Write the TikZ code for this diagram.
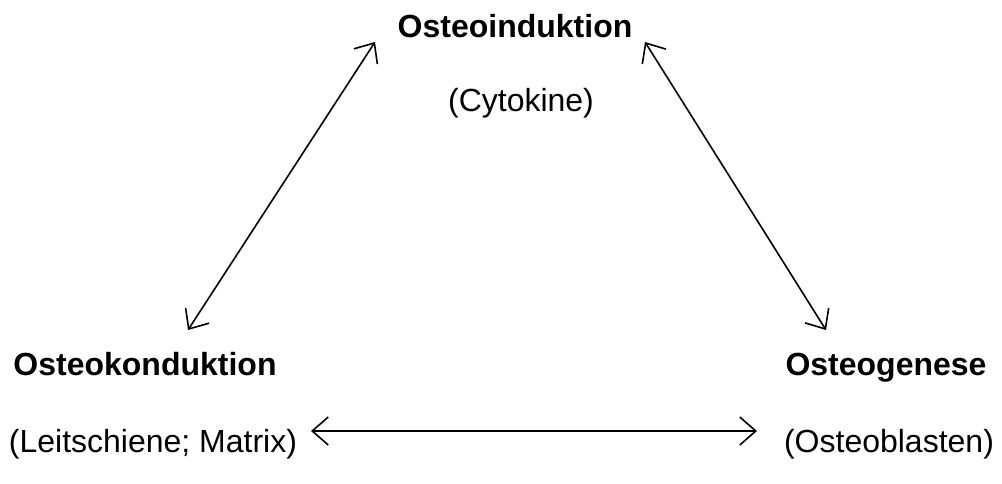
\documentclass[tikz,border=0pt]{standalone}
\usepackage{fontspec}
\setmainfont{Liberation Sans}
\usetikzlibrary{arrows.meta}
\begin{document}
\begin{tikzpicture}[x=1pt,y=-1pt,
  lbl/.style={anchor=base,inner sep=0pt,font=\fontsize{32}{38}\selectfont},
  blbl/.style={lbl,font=\fontsize{32}{38}\selectfont\bfseries},
  dbl/.style={line width=1.6pt,{Straight Barb[length=16pt,width=28pt,line width=1.6pt]}-{Straight Barb[length=16pt,width=28pt,line width=1.6pt]}}]
\useasboundingbox (0,0) rectangle (1002,484);
\node[blbl] (oi) at (515,38) {Osteoinduktion};
\node[lbl] (cy) at (521,112) {(Cytokine)};
\node[blbl] (ok) at (145,375) {Osteokonduktion};
\node[lbl] (ls) at (153,452) {(Leitschiene; Matrix)};
\node[blbl] (og) at (886,375) {Osteogenese};
\node[lbl] (ob) at (889,452) {(Osteoblasten)};
\coordinate (a1) at (375,42);
\coordinate (a2) at (188,330);
\coordinate (b1) at (645,42);
\coordinate (b2) at (826,330);
\coordinate (c1) at (311,431);
\coordinate (c2) at (757,431);
\draw[dbl] (a1) -- (a2);
\draw[dbl] (b1) -- (b2);
\draw[dbl] (c1) -- (c2);
\end{tikzpicture}
\end{document}
